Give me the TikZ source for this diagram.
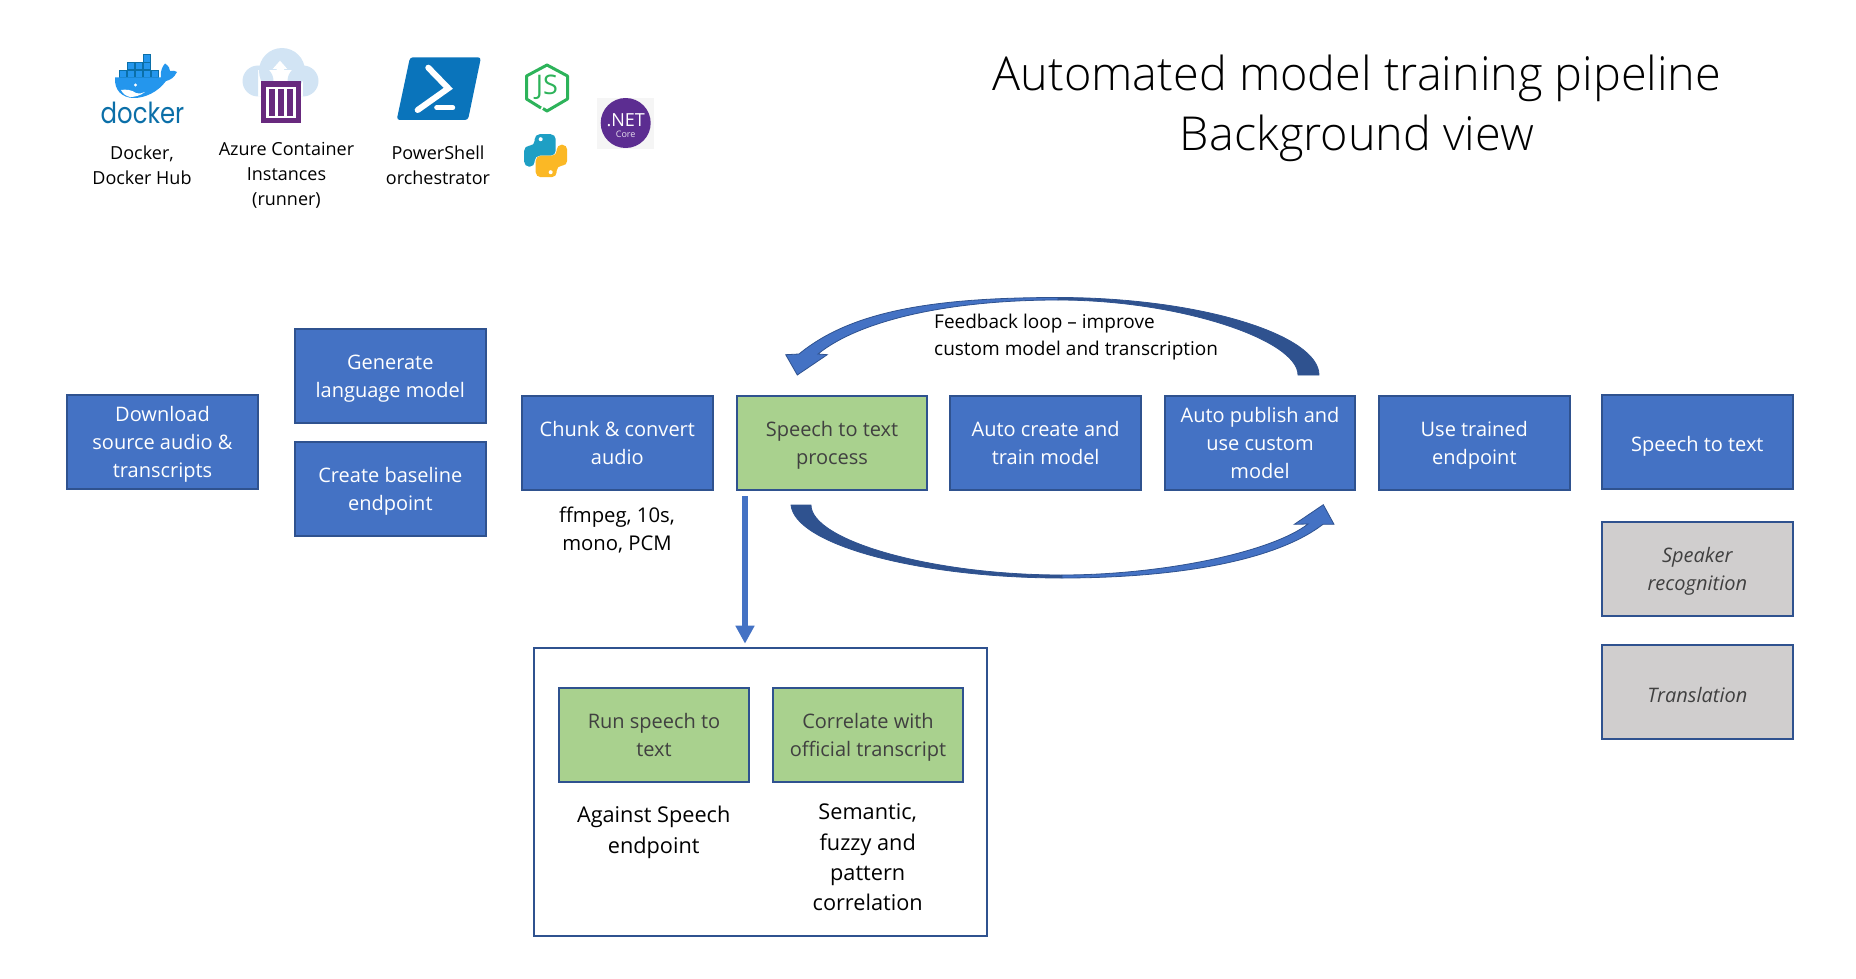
\documentclass[tikz,border=0pt]{standalone}
\usepackage{fontspec}
\setmainfont{Open Sans}
\newfontfamily\titlefont{Open Sans Light}
\newfontfamily\dockerfont{Poppins}
\usetikzlibrary{arrows.meta}
\definecolor{boxblue}{HTML}{4472C4}
\definecolor{edgeblue}{HTML}{2F528F}
\definecolor{boxgreen}{HTML}{A9D18E}
\definecolor{boxgrey}{HTML}{D0CECE}
\definecolor{inkgrey}{HTML}{404040}
\definecolor{dockerblue}{HTML}{0B6FA8}
\definecolor{whaleblue}{HTML}{2496ED}
\definecolor{cloudblue}{HTML}{D2E4F4}
\definecolor{acipurple}{HTML}{68297E}
\definecolor{shellblue}{HTML}{0A74BB}
\definecolor{nodegreen}{HTML}{2DB35A}
\definecolor{snakeblue}{HTML}{1E9FC4}
\definecolor{snakeyellow}{HTML}{FBB825}
\definecolor{netpurple}{HTML}{5C2D91}
\tikzset{
  stage/.style={draw=edgeblue,line width=2pt,minimum width=190.5pt,minimum height=94pt,
    inner sep=0pt,align=center,font=\fontsize{20}{28}\selectfont,
    execute at begin node=\strut,text depth=0pt},
  bluestage/.style={stage,fill=boxblue,text=white},
  greenstage/.style={stage,fill=boxgreen,text=inkgrey},
  greystage/.style={stage,fill=boxgrey,text=inkgrey,font=\fontsize{20}{28}\selectfont\itshape},
  panel/.style={draw=edgeblue,line width=2pt,minimum width=452.5pt,minimum height=288pt},
  caption/.style={align=center,inner sep=0pt,font=\fontsize{18}{25}\selectfont},
  note/.style={align=center,inner sep=0pt,font=\fontsize{20.3}{28}\selectfont},
  loopnote/.style={align=left,inner sep=0pt,font=\fontsize{19}{27}\selectfont},
  bignote/.style={align=center,inner sep=0pt,font=\fontsize{21.7}{30.3}\selectfont},
  bandlight/.style={fill=boxblue,draw=edgeblue,line width=.8pt},
  banddark/.style={fill=edgeblue,draw=edgeblue,line width=.8pt},
}
\newcommand{\snake}[1]{\fill[#1,rounded corners=5pt] (10,0) -- (10,-21.5) -- (-11,-21.5) -- (-11,-10) -- (-21.5,-10)
  -- (-21.5,11) -- (-11,11) -- (-11,0) -- cycle;
  \fill[white] (-5,-16.5) circle (2);}
\begin{document}
\begin{tikzpicture}[x=1pt,y=-1pt]
\useasboundingbox (0,0) rectangle (1856,979);

% title
\node[align=center,inner sep=0pt,font=\fontsize{46.8}{60}\titlefont] (title) at (1357,108.5) {Automated model training pipeline\\Background view};

% docker
\foreach \xa/\ya in {119/70,127/70,135/70,143/70,151/70,127/62,135/62,143/62,143/54.5}
  \draw[fill=whaleblue,draw=dockerblue,line width=.5pt] (\xa,\ya) rectangle ++(7.6,7.4);
\fill[whaleblue] (115,77.5) -- (161,77.5) .. controls (160,70) and (163,66) .. (165,63.5) .. controls (169,66) and (170,69) .. (170,71)
  .. controls (173,70) and (175,71) .. (177,72) .. controls (174,78) and (170,80) .. (166,81) .. controls (158,92) and (145,98) .. (134,98) .. controls (122,98) and (114,90) .. (115,77.5) -- cycle;
\fill[white] (121,90) .. controls (126,89) and (132,90) .. (136,93) .. controls (140,94) and (143,93) .. (145,92) .. controls (140,96) and (134,97) .. (130,97) .. controls (126,96) and (123,94) .. (121,90) -- cycle;
\fill[white] (135.5,85) circle (1.6);
\node[inner sep=0pt,text=dockerblue,font=\fontsize{29}{29}\dockerfont] (dockerword) at (142.5,113) {\scalebox{.84}[1]{docker}};
\node[caption] (dockerlabel) at (142,165) {Docker,\\Docker Hub};

% container instances
\fill[cloudblue] (258,81) circle (15.5) (303,81) circle (15.5) (282,71) circle (23) (258,70) rectangle (303,96.5);
\fill[white] (276.7,82) -- (276.7,69) -- (272.7,69) -- (280,60.7) -- (287.3,69) -- (284,69) -- (284,82) -- cycle;
\fill[acipurple] (260.7,81) rectangle (300.7,123);
\fill[white] (265.7,86.7) rectangle (295.7,118.3);
\foreach \xa in {268.7,277.7,286.7}
  \fill[acipurple] (\xa,89.3) rectangle ++(6,26.7);
\node[caption] (acilabel) at (286.5,175) {Azure Container\\Instances\\(runner)};

% powershell
\fill[shellblue,rounded corners=3pt] (410,57.3) -- (481,57.3) -- (468,120) -- (396.7,120) -- cycle;
\draw[white,line width=6pt,line cap=round,line join=miter] (428.3,67.7) -- (448.3,88.3) -- (417.7,110);
\draw[white,line width=5pt,line cap=round] (436.7,107.7) -- (452.7,107.7);
\node[caption] (shelllabel) at (438,165) {PowerShell\\orchestrator};

% node, python, .net
\draw[nodegreen,line width=3pt,line join=round] (541,108) -- (526.5,99) -- (526.5,76) -- (547,65) -- (567.5,76) -- (567.5,99) -- (547,111) -- (543,108.5);
\node[inner sep=0pt,text=nodegreen,font=\fontsize{27}{27}\selectfont] (nodejs) at (547,87) {JS};
\begin{scope}[shift={(545.7,155.7)}]
\snake{snakeblue}
\begin{scope}[rotate=180]
\snake{snakeyellow}
\end{scope}
\end{scope}
\fill[black!4] (597.3,97.7) rectangle (654,149);
\fill[netpurple] (625.7,123) circle (25);
\node[inner sep=0pt,text=white,font=\fontsize{18}{18}\selectfont] (netword) at (625.7,120) {.NET};
\node[inner sep=0pt,text=white!85!netpurple,font=\fontsize{9}{9}\selectfont] (coreword) at (625.7,134) {Core};

% pipeline
\node[bluestage] (download) at (162.5,442) {Download\\source audio \&\\transcripts};
\node[bluestage] (generate) at (390.3,376.3) {Generate\\language model};
\node[bluestage] (baseline) at (390.3,489.3) {Create baseline\\endpoint};
\node[bluestage] (chunk) at (617.3,443.3) {Chunk \& convert\\audio};
\node[greenstage] (speech) at (832,443.3) {Speech to text\\process};
\node[bluestage] (create) at (1045.7,443.3) {Auto create and\\train model};
\node[bluestage] (publish) at (1260,443.3) {Auto publish and\\use custom\\model};
\node[bluestage] (trained) at (1474.3,443.3) {Use trained\\endpoint};
\node[bluestage] (result) at (1697.3,442) {Speech to text};
\node[greystage] (speaker) at (1697.3,569.3) {Speaker\\recognition};
\node[greystage] (translation) at (1697.3,692.3) {Translation};
\node[note] (chunknote) at (617,530.5) {ffmpeg, 10s,\\mono, PCM};

% feedback loop
\fill[banddark] (1319,375) .. controls (1319,335) and (1200,297.5) .. (1058,297.5) -- (1058,300) .. controls (1180,300) and (1298,340) .. (1298,375) -- cycle;
\fill[bandlight] (1058,297.5) .. controls (930,297.5) and (850,312) .. (799,354) -- (785.7,354.7) -- (797.3,375) -- (827.3,354.7) -- (818,354) .. controls (860,320) and (950,300) .. (1058,300) -- cycle;
\node[loopnote,anchor=west] (feedback) at (934,337) {Feedback loop -- improve\\custom model and transcription};

% forward loop
\fill[banddark] (791,505) .. controls (795,545) and (920,578) .. (1062,578) -- (1062,575) .. controls (930,575) and (811,540) .. (811,505) -- cycle;
\fill[bandlight] (1062,578) .. controls (1160,578) and (1270,565) .. (1323,524.3) -- (1334,524.3) -- (1323.3,504.7) -- (1294.3,524.3) -- (1308,524) .. controls (1270,553) and (1160,575) .. (1062,575) -- cycle;

% drill down
\node[panel] (detail) at (760.7,791.7) {};
\node[greenstage] (run) at (654,735) {Run speech to\\text};
\node[greenstage] (correlate) at (868,735) {Correlate with\\official transcript};
\node[bignote] (runnote) at (653.7,832.5) {Against Speech\\endpoint};
\node[bignote] (correlatenote) at (867.7,857.5) {Semantic,\\fuzzy and\\pattern\\correlation};
\coordinate (dropstart) at (745,496);
\draw[boxblue,line width=5.3pt,-{Triangle[length=18pt,width=18pt]},shorten >=3pt] (dropstart) -- (dropstart |- detail.north);
\end{tikzpicture}
\end{document}
